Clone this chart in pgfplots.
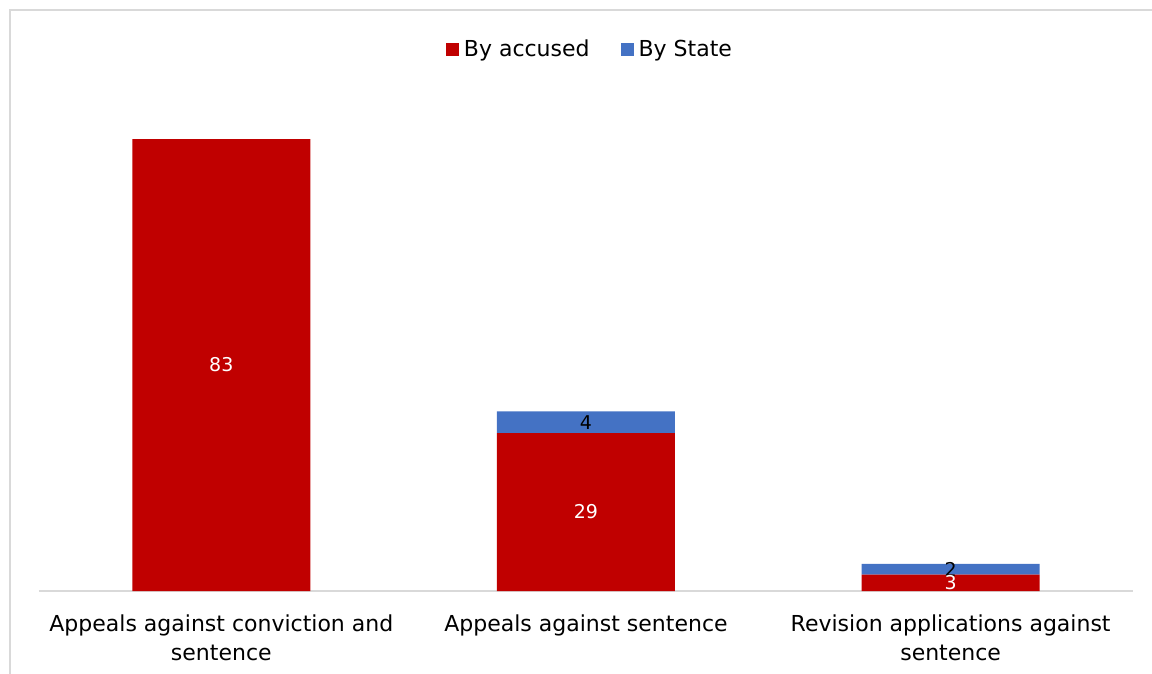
\documentclass[border=0pt]{standalone}
\usepackage{pgfplots}
\pgfplotsset{compat=1.18}
\usepackage{pgfplotstable}
\usepackage{fontspec}
\setmainfont{DejaVu Sans}
\definecolor{accred}{HTML}{C00000}
\definecolor{stblue}{HTML}{4472C4}
\definecolor{bordergray}{HTML}{D9D9D9}
\pgfplotstableread{
x accused state
0 83 0
1 29 4
2 3 2
}\datatable
\begin{document}
\begin{tikzpicture}
\path[use as bounding box] (-39pt,-82pt) rectangle (1113pt,591pt);
\draw[bordergray, line width=2pt] (-29pt,-95pt) -- (-29pt,581pt) -- (1125pt,581pt);
\begin{axis}[
  scale only axis, width=1094pt, height=490pt,
  xmin=-0.5, xmax=2.5, ymin=0, ymax=90,
  ybar stacked, bar width=178pt,
  axis y line=none, axis x line*=bottom,
  x axis line style={bordergray, line width=1.5pt, -},
  xtick={0,1,2},
  xticklabels={{Appeals against conviction and\\sentence},{Appeals against sentence},{Revision applications against\\sentence}},
  xticklabel style={align=center, font=\fontsize{22}{29}\selectfont, text=black, yshift=-20pt},
  major tick length=0pt,
  legend style={at={(0.5,1)}, anchor=center, xshift=4pt, yshift=52pt, draw=none, fill=none,
    font=\fontsize{22}{26}\selectfont, legend columns=-1,
    /tikz/every even column/.append style={column sep=29pt}},
  legend image code/.code={\fill[#1] (0pt,-6.5pt) rectangle (13pt,6.5pt); \path (16pt,0pt);},
  clip=false,
  point meta=explicit,
  /pgf/number format/assume math mode=true,
  nodes near coords={\pgfmathfloatifflags{\pgfplotspointmeta}{0}{}{\pgfmathprintnumber{\pgfplotspointmeta}}},
]
\addplot[fill=accred, draw=none,
  every node near coord/.append style={anchor=center, text=white, font=\fontsize{19}{22}\selectfont}]
  table[x=x, y=accused, meta=accused] {\datatable};
\addlegendentry{By accused}
\addplot[fill=stblue, draw=none,
  every node near coord/.append style={anchor=center, text=black, font=\fontsize{19}{22}\selectfont}]
  table[x=x, y=state, meta=state] {\datatable};
\addlegendentry{By State}
\end{axis}
\end{tikzpicture}
\end{document}
